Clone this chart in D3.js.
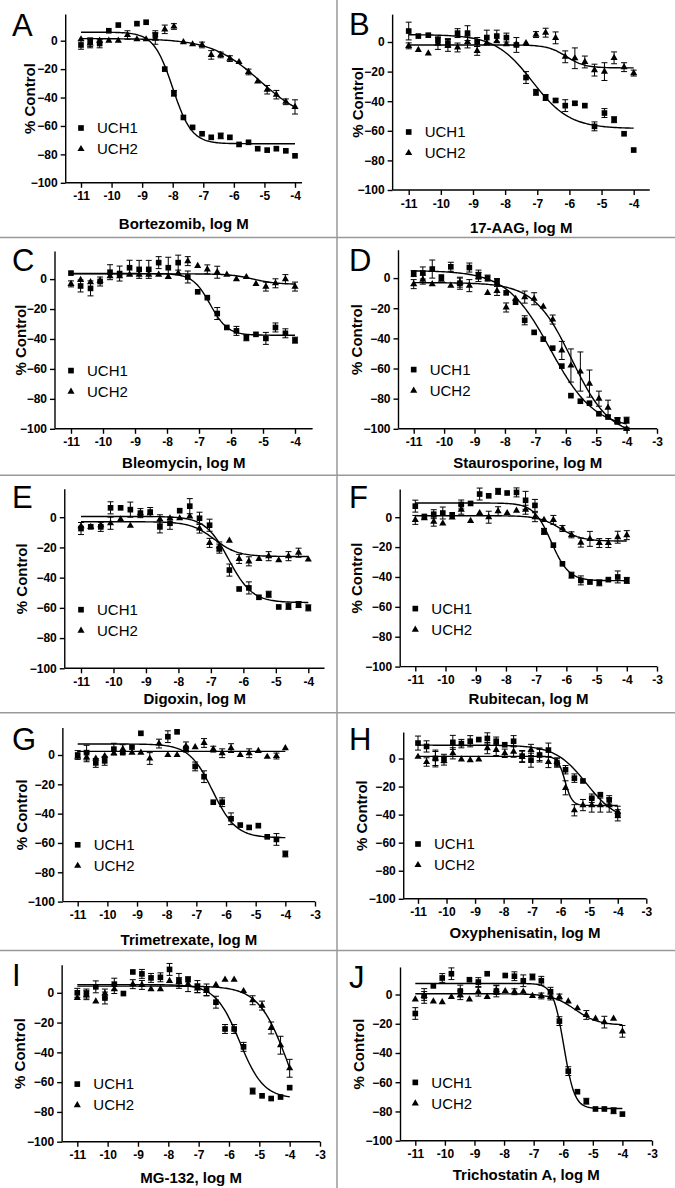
<!DOCTYPE html>
<html lang="en">
<head>
<meta charset="utf-8">
<title>UCH1 / UCH2 dose response</title>
<script src="https://cdnjs.cloudflare.com/ajax/libs/d3/7.8.5/d3.min.js"></script>
<style>
  body { margin: 0; background: #fff; font-family: "Liberation Sans", Arial, Helvetica, sans-serif; }
  svg { display: block; background: #fff; }
  .axis path, .axis line { fill: none; stroke: #000; stroke-width: 1.4px; }
  .axis text { font-family: "Liberation Sans", Arial, sans-serif; font-size: 12px; font-weight: bold; fill: #000; }
  .xlabel, .ylabel { font-size: 15px; font-weight: bold; fill: #000; }
  .legend text { font-size: 15px; fill: #000; }
  .letter { font-size: 31px; fill: #000; }
  .curve { fill: none; stroke: #000; stroke-width: 1.4px; }
  .err { stroke: #000; stroke-width: 1px; fill: none; }
  .divider { stroke: #999; stroke-width: 1.5px; }
</style>
</head>
<body>
<script>
// log M doses (half-log-ish dilution series, same for every panel)
var doses = [-11, -10.70, -10.39, -10.09, -9.78, -9.48, -9.17, -8.87, -8.57, -8.26, -7.96, -7.65,
             -7.35, -7.04, -6.74, -6.43, -6.13, -5.83, -5.52, -5.22, -4.91, -4.61, -4.30, -4.00];

var letters = ["A", "B", "C", "D", "E", "F", "G", "H", "I", "J"];
var drugs = ["Bortezomib", "17-AAG", "Bleomycin", "Staurosporine", "Digoxin",
             "Rubitecan", "Trimetrexate", "Oxyphenisatin", "MG-132", "Trichostatin A"];
var lastTick = [-4, -4, -4, -3, -4, -3, -3, -3, -3, -3];
var yTicks = [0, -20, -40, -60, -80, -100];
var seriesNames = ["UCH1", "UCH2"];

// % control, UCH1 (squares)
var uch1 = [
  [-3, -1, -2, 7, 11, null, 12, 13, 4, -20, -37, -54, -61, -65.5, -68, -67, -68, -73, -71.5, -76, -77, -76, -77.5, -81],
  [7.4, 4, 4.6, 1, -0.7, 6, 6, 0, 3, 4, 3, -2, -24, -34, -37.5, -39.5, -43, -41.4, -43, -57, -48, -52.5, -62, -73],
  [4, -4.6, -6.2, -1.6, 4.6, 3.7, 7.6, 6.5, 6.5, 11, 7.6, 11, 1.4, -8.5, -12.4, -23, -32.3, -34.6, -39.2, -36.9, -39.6, -32.3, -36.2, -40.8],
  [3, 3.4, 6, 0.7, 7.5, -3.4, 7, 2.3, 0, -2.3, -9.8, -16, -28, -36, -40.5, -46.5, -58.4, -78, -81.7, -83, -90, -92.2, -94.5, -94.3],
  [-7.5, -6.4, -6.4, 6.2, 6.2, 5, 2.7, 3.4, -6.4, -4, 4.3, 7.3, -0.7, -5.3, -20.8, -35, -47.5, -46.8, -53, -51, -59.4, -59, -57.8, -60],
  [7.4, 0.5, 2, 2.8, 1.6, 8.5, 9.2, 15.5, 14.3, 17.3, 16.2, 16.6, 11.3, 7.9, -9.5, -18.7, -31.2, -38.8, -42.3, -43.4, -43.9, -41.8, -40, -42.3],
  [0, 1.6, -5.4, -4, 4, 1.6, 5.4, 14.8, null, null, 12.5, 15.8, 4, -7.8, -14.8, -32.2, -32.2, -43.5, -47.8, -49.4, -48.2, -55.8, -57.6, -67.5],
  [11, 8.6, 0, 0, 11.5, 10.6, 12.3, 13.5, 14.3, 12.3, 9.8, 12.3, 1.7, -1.2, 2.5, 6, -3.2, -8, -14, -16, -28.3, -25.8, -29.5, -40.5],
  [0, -0.5, 4, -3.5, 5.8, -0.5, 14, 12.7, 10, 10.4, 15.7, 8, 8.8, 4.2, 1.9, -6.3, -24.3, -24.3, -36.3, -66, -69.2, -71, -70, -63.7],
  [-13, -1, 5.9, 11.3, 14.2, 2.4, 10.1, 8.5, 14.2, 2.4, 13, 12.5, 9.4, 12, 9.4, 1.9, -18.2, -52.4, -66.5, -73, -78.3, -78.3, -79.5, -81.8]
];
var uch1Err = [
  [3, 3, 3, 0, 0, 0, 0, 0, 3, 0, 2, 0, 0, 0, 0, 2, 0, 0, 0, 0, 0, 0, 0, 0],
  [6, 0, 0, 3, 3, 3, 5, 3, 5, 4, 3, 5, 4, 2, 2, 1, 4, 1, 0, 3, 3, 2, 0, 0],
  [0, 4, 5, 3, 5, 5, 5, 6, 6, 4, 7, 5, 4, 0, 0, 4, 0, 3, 2, 0, 4, 3, 3, 2],
  [2, 4, 6, 0, 3, 4, 3, 3, 2, 2, 0, 0, 3, 0, 0, 0, 0, 0, 0, 0, 0, 0, 2, 2],
  [4, 0, 3, 4, 0, 5, 3, 3, 4, 4, 0, 5, 4, 4, 3, 4, 0, 4, 0, 2, 0, 2, 2, 2],
  [4, 0, 3, 4, 0, 3, 0, 4, 0, 2, 0, 3, 6, 4, 2, 0, 0, 2, 3, 0, 2, 0, 4, 2],
  [3, 5, 3, 3, 4, 0, 0, 0, 0, 0, 4, 0, 2, 3, 4, 0, 3, 4, 0, 0, 0, 0, 4, 2],
  [5, 4, 6, 3, 5, 3, 4, 0, 4, 3, 0, 4, 4, 5, 5, 5, 3, 3, 3, 0, 3, 0, 3, 4],
  [3, 3, 4, 4, 4, 0, 0, 3, 3, 3, 4, 5, 0, 4, 4, 4, 3, 3, 3, 2, 0, 0, 0, 0],
  [4, 5, 0, 3, 4, 4, 0, 3, 0, 4, 0, 3, 4, 2, 3, 3, 3, 3, 0, 2, 0, 0, 2, 0]
];

// % control, UCH2 (triangles)
var uch2 = [
  [1, -2, 0, 0, 0, 4, 1, 1, 1.5, 8, 10, -1, -2.5, -3, -10, -10, -12.6, -15, -22, -28.6, -34.5, -38, -43, -46.6],
  [-2.6, -5.3, -7.7, -1, -2.3, -3.7, 0, -6, -0.7, 0.5, -1.4, -1.4, -0.7, 5, 6.3, 2.8, -10, -11, -13.5, -19, -20, -10.7, -17, -21],
  [-3.2, -0.5, -2, -1, 2, 2, 3, 3, 3, 3, 1.5, 4, 12, 8.8, 6.5, 4.6, 3, 0, 1.4, -3.2, -5, -2.8, 0, -5],
  [-4, -1, -4, -1, -5, -3, -5, 0.7, -9.8, -8.5, -19.5, -13.7, -12.6, -13.7, -19, -27.5, -48, -58, -62, -70, -80, -86, -95, -100],
  [-6, -6.4, -5.3, -4, -1.4, -5.7, 2.7, 2.7, -1.4, -0.7, -0.7, 0.5, -7.5, -17, -19.4, -15.5, -27.6, -29.2, -27.6, -25.8, -28.5, -25.8, -23.5, -28],
  [-1.8, -0.7, -3, -4.2, -0.2, 5, -2.5, 2.8, 0, 4, 2.8, 4.4, 5, 0, -1.8, -1.8, -7.6, -11.8, -17, -14.5, -17.3, -17.3, -13.4, -12],
  [-1.2, -1.6, -2.4, -0.7, 1.2, 4, 1.6, 1.6, -2.4, 7.8, 0, 0, 5.9, 5.4, 8.2, 4, 1.2, 4.7, 0, 1.2, 2.8, -1.2, -0.7, 4.7],
  [1.2, -2.5, 0, -1.7, 3.7, -0.7, -1.2, -0.7, 7.4, 6.1, 3.7, 4.9, 1.2, 6.1, 2.5, -2.5, -2.5, -20.9, -36.9, -33.2, -33.2, -33.2, -33.2, -38],
  [-3.5, -1.6, -5.8, -0.5, 2.5, null, 5.8, 5.3, 2.5, 2.5, 8, 7.2, 5.8, 3, 1.2, 5.3, 8.8, 8.8, 1.2, -5, -8.6, -23.6, -35.2, -50.7],
  [-3.3, -1, -4.7, -5.2, -1.7, -0.5, -3.3, 1.9, -1.7, 3, 2.4, 1.9, 1.9, -1, -1, -1.7, -1.7, -4.7, -9.4, -14, -16.5, -18.9, -16.5, -25.2]
];
var uch2Err = [
  [0, 3, 0, 0, 0, 3, 0, 0, 4, 3, 2, 0, 0, 2, 3, 2, 2, 0, 2, 0, 3, 3, 2, 5],
  [2, 0, 0, 4, 4, 3, 4, 3, 0, 0, 0, 0, 0, 2, 3, 4, 4, 7, 4, 4, 6, 4, 3, 2],
  [2, 0, 0, 0, 0, 0, 0, 0, 0, 0, 0, 0, 3, 0, 3, 4, 0, 0, 0, 0, 3, 3, 3, 3],
  [3, 3, 0, 0, 0, 3, 4, 3, 0, 3, 3, 0, 4, 4, 0, 3, 6, 11, 13, 9, 5, 5, 2, 1],
  [0, 0, 0, 4, 0, 0, 0, 0, 3, 0, 0, 0, 3, 3, 3, 0, 3, 3, 0, 3, 0, 3, 3, 0],
  [3, 0, 3, 0, 0, 3, 0, 0, 4, 3, 0, 0, 3, 3, 0, 3, 2, 2, 3, 5, 3, 3, 4, 3],
  [0, 3, 0, 0, 0, 3, 0, 0, 4, 3, 0, 0, 3, 0, 3, 2, 3, 3, 0, 3, 0, 0, 2, 0],
  [0, 3, 5, 3, 4, 0, 0, 0, 4, 4, 3, 4, 4, 4, 4, 4, 3, 5, 4, 4, 5, 5, 5, 4],
  [0, 3, 0, 3, 3, 0, 3, 3, 0, 0, 0, 3, 5, 3, 3, 0, 0, 0, 0, 3, 3, 4, 6, 6],
  [0, 3, 0, 0, 0, 3, 0, 3, 0, 3, 0, 2, 0, 0, 2, 2, 2, 0, 0, 3, 0, 4, 0, 4]
];

// fitted sigmoid parameters: [top, bottom, logEC50, hill slope]
var uch1Fit = [
  [6, -72.5, -8.0, 1.4], [5, -58.5, -7.15, 0.75], [3.7, -37.5, -6.65, 1.6], [5, -100, -6.5, 0.6],
  [0.5, -56.5, -6.45, 1.2], [9.5, -42.5, -6.5, 1.5], [7.5, -56.5, -6.45, 1.1], [9.5, -45, -5.1, 0.8],
  [5.5, -71, -5.65, 1.1], [7.5, -78, -5.98, 2.4]
];
var uch2Fit = [
  [1.5, -58, -5.15, 0.55], [-2, -17.5, -6.1, 1.5], [3.5, -3.5, -5.3, 1.2], [-3, -105, -5.8, 0.7],
  [-3, -26, -6.9, 1.2], [1, -16, -6.2, 1.2], [2.5, 2.5, -7, 1], [1.5, -33.5, -5.85, 3.5],
  [4.5, -100, -4.05, 0.9], [0.5, -21, -5.6, 1.1]
];

// panel geometry (local pixels): px of -11 tick, px of last tick, axis end (log M),
// px of 0 and -100, x-title y, y-title x, legend y, letter baseline
var layout = [
  { x11: 81,   xl: 295,   xEnd: -3.77, y0: 40.7, y100: 182.8, tY: 224,   yT: 30,   lY: 128,   lb: 36 },
  { x11: 71.7, xl: 296.7, xEnd: -3.5,  y0: 42,   y100: 190,   tY: 227.6, yT: 21,   lY: 132,   lb: 34.5 },
  { x11: 71,   xl: 295,   xEnd: -3.45, y0: 41.5, y100: 191.2, tY: 225,   yT: 21,   lY: 133,   lb: 33.6 },
  { x11: 76.7, xl: 320,   xEnd: -3,    y0: 40.5, y100: 191.2, tY: 225,   yT: 20,   lY: 132,   lb: 33.6 },
  { x11: 81,   xl: 308.3, xEnd: -3.5,  y0: 42,   y100: 193.1, tY: 224,   yT: 21.7, lY: 134.5, lb: 32.7 },
  { x11: 78.3, xl: 320,   xEnd: -3,    y0: 42,   y100: 191.4, tY: 224,   yT: 20,   lY: 133.4, lb: 32.7 },
  { x11: 77.7, xl: 315,   xEnd: -3,    y0: 42.2, y100: 188.8, tY: 226.7, yT: 21.7, lY: 132,   lb: 37 },
  { x11: 81,   xl: 309.3, xEnd: -3,    y0: 45.7, y100: 186,   tY: 219.8, yT: 25,   lY: 131.2, lb: 37 },
  { x11: 77.3, xl: 320,   xEnd: -3,    y0: 42.4, y100: 191.3, tY: 227.5, yT: 20,   lY: 133.7, lb: 36 },
  { x11: 78.3, xl: 315,   xEnd: -3,    y0: 44.1, y100: 190.3, tY: 224,   yT: 21.7, lY: 132,   lb: 37.9 }
];

var fullwidth = 675, fullheight = 1188;
var colW = 337, rowH = fullheight / 5;
var xStart = -11.5, yTop = 18.5;

var svg = d3.select("body").append("svg")
  .attr("width", fullwidth)
  .attr("height", fullheight);

// gray frame lines between panels
for (var r = 1; r < 5; r++) {
  svg.append("line").attr("class", "divider")
    .attr("x1", 0).attr("x2", fullwidth)
    .attr("y1", r * rowH).attr("y2", r * rowH);
}
svg.append("line").attr("class", "divider")
  .attr("x1", colW).attr("x2", colW).attr("y1", 0).attr("y2", fullheight);

var squareSym = d3.symbol().type(d3.symbolSquare).size(32);
var triSym = d3.symbol().type(d3.symbolTriangle).size(22);

function hill(p, x) {
  return p[1] + (p[0] - p[1]) / (1 + Math.pow(10, (x - p[2]) * p[3]));
}

letters.forEach(function(letter, i) {
  var L = layout[i];
  var g = svg.append("g")
    .attr("transform", "translate(" + ((i % 2) * colW) + "," + (Math.floor(i / 2) * rowH) + ")");

  var xScale = d3.scaleLinear().domain([-11, lastTick[i]]).range([L.x11, L.xl]);
  var yScale = d3.scaleLinear().domain([0, -100]).range([L.y0, L.y100]);

  var xt = d3.range(-11, lastTick[i] + 0.5, 1);
  var xAxis = d3.axisBottom(xScale).tickValues(xt).tickSize(5).tickPadding(4).tickSizeOuter(0)
    .tickFormat(function(d) { return d; });
  var yAxis = d3.axisLeft(yScale).tickValues(yTicks).tickSize(5).tickPadding(3).tickSizeOuter(0);

  var gx = g.append("g").attr("class", "axis")
    .attr("transform", "translate(0," + yScale(-100) + ")")
    .call(xAxis);
  gx.select(".domain").attr("d", "M" + xScale(xStart) + ",0H" + xScale(L.xEnd));

  var gy = g.append("g").attr("class", "axis")
    .attr("transform", "translate(" + xScale(xStart) + ",0)")
    .call(yAxis);
  gy.select(".domain").attr("d", "M0," + yScale(-100) + "V" + yScale(yTop));

  // panel letter
  g.append("text").attr("class", "letter")
    .attr("x", 12).attr("y", L.lb).text(letter);

  // axis titles
  g.append("text").attr("class", "xlabel")
    .attr("x", (xScale(xStart) + xScale(L.xEnd)) / 2)
    .attr("y", L.tY).attr("dy", "0.35em")
    .style("text-anchor", "middle")
    .text(drugs[i] + ", log M");

  g.append("text").attr("class", "ylabel")
    .attr("transform", "translate(" + L.yT + "," + ((yScale(-100) + yScale(yTop)) / 2) + ") rotate(-90)")
    .attr("dy", "0.35em")
    .style("text-anchor", "middle")
    .text("% Control");

  // fitted curves
  var xs = d3.range(-11, -3.999, 0.05);
  var line = d3.line()
    .x(function(d) { return xScale(d); });
  [uch1Fit[i], uch2Fit[i]].forEach(function(p) {
    g.append("path").attr("class", "curve")
      .attr("d", line.y(function(d) { return yScale(hill(p, d)); })(xs));
  });

  // points with error bars
  [[uch1[i], uch1Err[i], squareSym], [uch2[i], uch2Err[i], triSym]].forEach(function(s) {
    var pts = doses.map(function(x, k) { return { x: x, y: s[0][k], e: s[1][k] }; })
      .filter(function(d) { return d.y !== null; });

    var eb = g.append("g").selectAll("g.eb")
      .data(pts.filter(function(d) { return d.e > 0; }))
      .enter().append("g").attr("class", "eb");
    eb.append("line").attr("class", "err")
      .attr("x1", function(d) { return xScale(d.x); })
      .attr("x2", function(d) { return xScale(d.x); })
      .attr("y1", function(d) { return yScale(d.y + d.e); })
      .attr("y2", function(d) { return yScale(d.y - d.e); });
    eb.append("line").attr("class", "err")
      .attr("x1", function(d) { return xScale(d.x) - 3; })
      .attr("x2", function(d) { return xScale(d.x) + 3; })
      .attr("y1", function(d) { return yScale(d.y + d.e); })
      .attr("y2", function(d) { return yScale(d.y + d.e); });
    eb.append("line").attr("class", "err")
      .attr("x1", function(d) { return xScale(d.x) - 3; })
      .attr("x2", function(d) { return xScale(d.x) + 3; })
      .attr("y1", function(d) { return yScale(d.y - d.e); })
      .attr("y2", function(d) { return yScale(d.y - d.e); });

    g.append("g").selectAll("path")
      .data(pts)
      .enter().append("path")
      .attr("d", s[2])
      .attr("fill", "#000")
      .attr("transform", function(d) {
        return "translate(" + xScale(d.x) + "," + yScale(d.y) + ")";
      });
  });

  // legend
  var leg = g.append("g").attr("class", "legend");
  seriesNames.forEach(function(name, k) {
    var ly = L.lY + k * 21;
    leg.append("path")
      .attr("d", k === 0 ? squareSym : triSym)
      .attr("fill", "#000")
      .attr("transform", "translate(" + L.x11 + "," + ly + ")");
    leg.append("text")
      .attr("x", L.x11 + 16).attr("y", ly).attr("dy", "0.35em")
      .text(name);
  });
});
</script>
</body>
</html>
